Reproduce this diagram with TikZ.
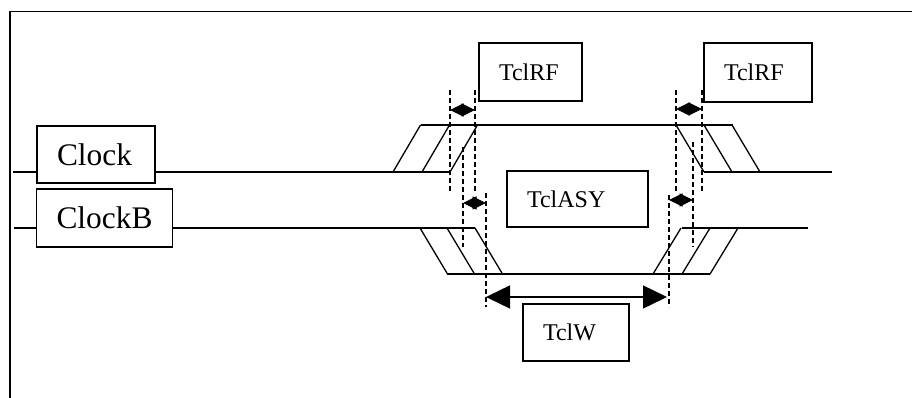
\documentclass[tikz,border=0pt]{standalone}
\usepackage{fontspec}
\setmainfont{Liberation Serif}
\usetikzlibrary{arrows.meta}
\begin{document}
\begin{tikzpicture}[x=1pt, y=-1pt,
  bx/.style={draw, line width=1.4pt, fill=white, inner xsep=20pt, inner ysep=0pt, align=left, font=\fontsize{24}{28}\selectfont},
  big/.style={font=\fontsize{31.4}{36}\selectfont},
  sig/.style={line width=1.3pt},
  dsh/.style={line width=1.1pt, dash pattern=on 5pt off 3pt},
  dia/.style={line width=1pt, {Triangle[length=13.5pt,width=13pt]}-{Triangle[length=13.5pt,width=13pt]}},
  wide/.style={line width=1.4pt, {Triangle[length=24pt,width=23pt]}-{Triangle[length=24pt,width=23pt]}}
]
\useasboundingbox (0,0) rectangle (912,398);
\draw[line width=1.4pt] (10,398) -- (10,11.7) -- (912,11.7);

% Clock
\node[bx, big, text width=78pt, minimum height=57pt] (clk) at (96,154.5) {Clock};
\coordinate (c0) at (13,172);
\draw[sig] (c0) -- (c0 -| clk.west);
\draw[sig] (c0 -| clk.east) -- (450,172);
\foreach \x in {393,422,450} \draw[sig] (\x,172) -- ++(27.5,-47);
\draw[sig] (421,125) -- (733,125);
\foreach \x in {676,704,732} \draw[sig] (\x,125) -- ++(28,47);
\draw[sig] (704,172) -- (832,172);

% ClockB
\node[bx, big, text width=96pt, minimum height=58pt] (clkb) at (104.5,218) {ClockB};
\coordinate (b0) at (14,228);
\draw[sig] (b0) -- (b0 -| clkb.west);
\draw[sig] (b0 -| clkb.east) -- (475,228);
\foreach \x in {420,447,475} \draw[sig] (\x,228) -- ++(27.5,46);
\draw[sig, line width=1.7pt] (447,274) -- (710,274);
\foreach \x in {653,682,710} \draw[sig] (\x,274) -- ++(28,-46);
\draw[sig] (682,228) -- (808,228);

% timing marks
\foreach \x/\a/\b in {450/90/193, 475/90/193, 463/147/247, 486/193/307,
                      676/90/193, 702/90/193, 693/142/247, 669/195/307}
  \draw[dsh] (\x,\a) -- (\x,\b);
\coordinate (r1) at (450,110); \coordinate (r2) at (475,110);
\coordinate (r3) at (463,203); \coordinate (r4) at (486,203);
\coordinate (r5) at (676,109); \coordinate (r6) at (702,109);
\coordinate (r7) at (669,200); \coordinate (r8) at (693,200);
\coordinate (w1) at (486,297); \coordinate (w2) at (667,297);
\draw[dia] (r1) -- (r2);
\draw[dia] (r3) -- (r4);
\draw[dia] (r5) -- (r6);
\draw[dia] (r7) -- (r8);
\draw[wide] (w1) -- (w2);

% labels
\node[bx, text width=63pt, minimum height=58pt] (rf1) at (530.5,72) {TclRF};
\node[bx, text width=68pt, minimum height=59pt] (rf2) at (758,72.5) {TclRF};
\node[bx, text width=101pt, minimum height=56pt] (asy) at (577.5,199) {TclASY};
\node[bx, text width=66pt, minimum height=57pt] (tw) at (576,332.5) {TclW};
\end{tikzpicture}
\end{document}
